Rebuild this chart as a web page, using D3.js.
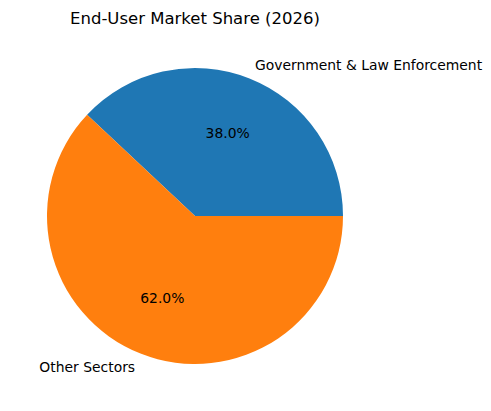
<!DOCTYPE html>
<html>
<head>
<meta charset="utf-8">
<script src="https://cdn.jsdelivr.net/npm/d3@7"></script>
<style>
  body { margin: 0; background: #fff; }
  text { font-family: 'DejaVu Sans', sans-serif; fill: #000; }
</style>
</head>
<body>
<div id="chart"></div>
<script>
const categories = ['Government & Law Enforcement', 'Other Sectors'];
const shares = [38.0, 62.0];
const colors = ['#1f77b4', '#ff7f0e'];

const width = 491;
const height = 411;
const cx = 195;
const cy = 216;
const radius = 148;

const svg = d3
  .select('#chart')
  .append('svg')
  .attr('width', width)
  .attr('height', height);

svg
  .append('text')
  .attr('x', cx)
  .attr('y', 24)
  .attr('text-anchor', 'middle')
  .style('font-size', '16.5px')
  .text('End-User Market Share (2026)');

// matplotlib style: start at 3 o'clock, counter-clockwise
const pie = d3
  .pie()
  .sort(null)
  .startAngle(Math.PI / 2)
  .endAngle(Math.PI / 2 - 2 * Math.PI);

const arcs = pie(shares);
const arc = d3.arc().innerRadius(0).outerRadius(radius);

const g = svg.append('g').attr('transform', `translate(${cx},${cy})`);

g.selectAll('path')
  .data(arcs)
  .enter()
  .append('path')
  .attr('d', arc)
  .style('fill', (d, i) => colors[i]);

const pos = (d, r) => {
  const a = (d.startAngle + d.endAngle) / 2;
  return [r * Math.sin(a), -r * Math.cos(a)];
};

g.selectAll('.label')
  .data(arcs)
  .enter()
  .append('text')
  .attr('class', 'label')
  .attr('x', (d) => pos(d, radius * 1.1)[0])
  .attr('y', (d) => pos(d, radius * 1.1)[1])
  .attr('dy', '0.35em')
  .attr('text-anchor', (d) => (pos(d, 1)[0] > 0 ? 'start' : 'end'))
  .style('font-size', '13.9px')
  .text((d, i) => categories[i]);

g.selectAll('.pct')
  .data(arcs)
  .enter()
  .append('text')
  .attr('class', 'pct')
  .attr('x', (d) => pos(d, radius * 0.6)[0])
  .attr('y', (d) => pos(d, radius * 0.6)[1])
  .attr('dy', '0.35em')
  .attr('text-anchor', 'middle')
  .style('font-size', '13.9px')
  .text((d) => d.data.toFixed(1) + '%');
</script>
</body>
</html>
